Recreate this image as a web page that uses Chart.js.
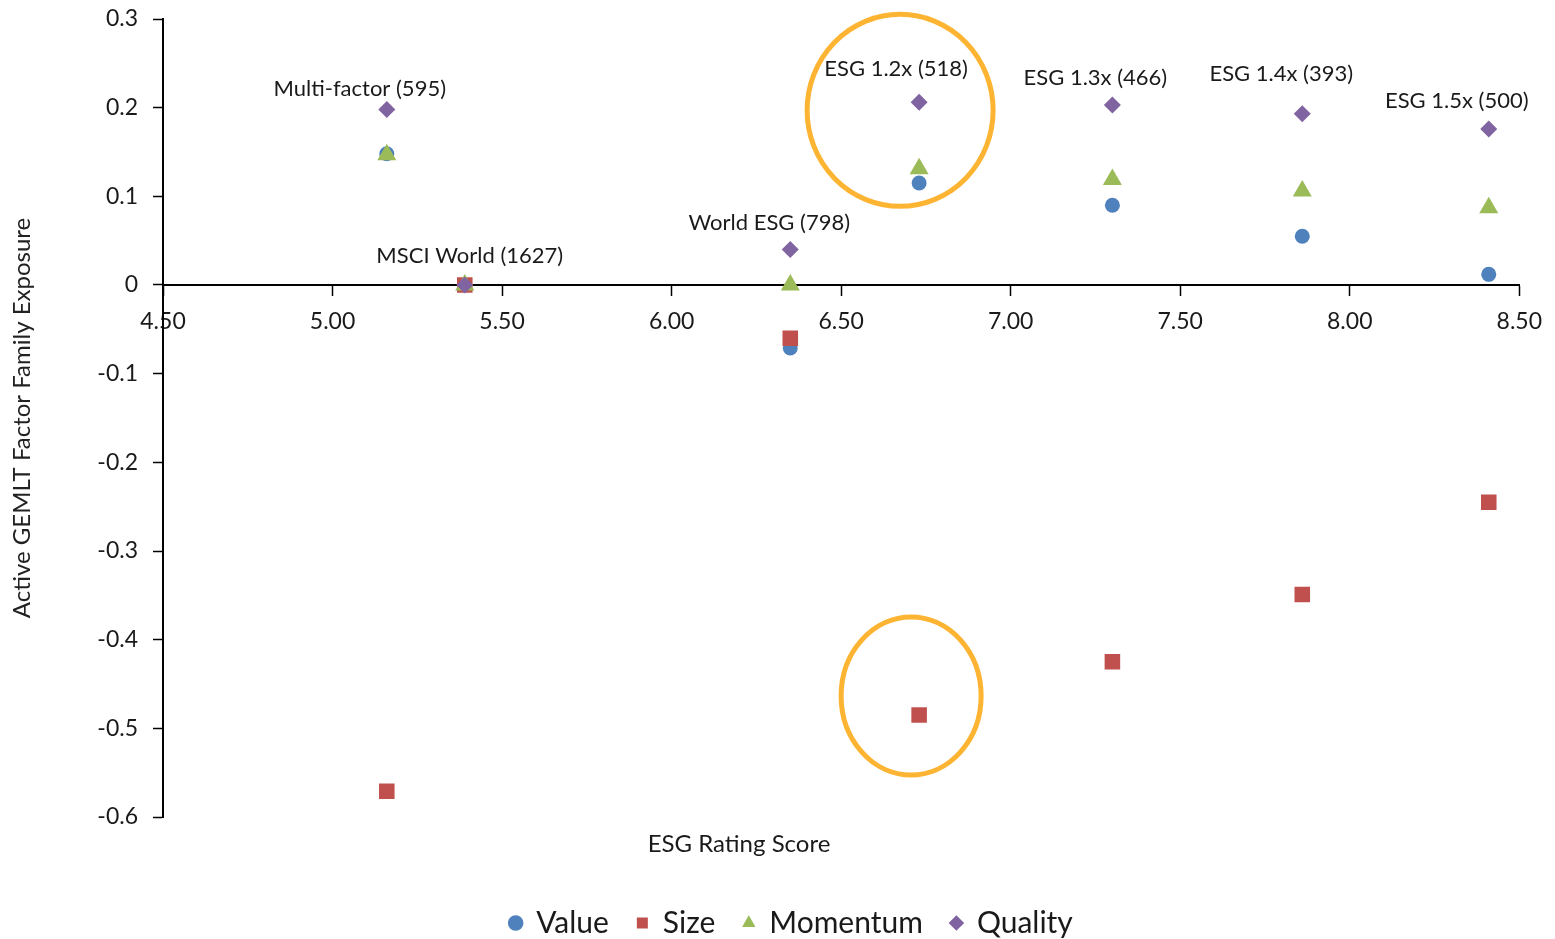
<!DOCTYPE html>
<html>
<head>
<meta charset="utf-8">
<title>Active factor exposure vs ESG rating</title>
<script src="https://cdn.jsdelivr.net/npm/chart.js@4.4.1/dist/chart.umd.min.js"></script>
<style>
  html, body { margin: 0; padding: 0; background: #ffffff; }
  canvas { display: block; }
</style>
</head>
<body>
<canvas id="chart" width="1555" height="939"></canvas>
<script>
// Portfolios (with constituent counts) and their ESG rating scores
const portfolios = ['Multi-factor (595)', 'MSCI World (1627)', 'World ESG (798)', 'ESG 1.2x (518)', 'ESG 1.3x (466)', 'ESG 1.4x (393)', 'ESG 1.5x (500)'];
const esgScores = [5.16, 5.39, 6.35, 6.73, 7.30, 7.86, 8.41];

// Active GEMLT factor family exposures per portfolio
const valueExposure    = [0.148, 0.000, -0.071, 0.115, 0.090, 0.055, 0.012];
const sizeExposure     = [-0.571, 0.000, -0.060, -0.485, -0.425, -0.349, -0.245];
const momentumExposure = [0.147, 0.000, 0.000, 0.131, 0.119, 0.106, 0.087];
const qualityExposure  = [0.198, 0.000, 0.040, 0.206, 0.203, 0.193, 0.176];

// Axis tick labels
const xTickLabels = ['4.50', '5.00', '5.50', '6.00', '6.50', '7.00', '7.50', '8.00', '8.50'];
const yTickLabels = ['-0.6', '-0.5', '-0.4', '-0.3', '-0.2', '-0.1', '0', '0.1', '0.2', '0.3'];

// Portfolio singled out with rings
const highlightIndex = 3;

// Label placement: pixel offsets from each portfolio's Quality marker
const labelOffsets = [[-27, -21], [5, -29], [-21, -27], [-23, -33], [-17, -27], [-21, -40], [-32, -28]];

// Rings around the highlighted portfolio: anchor series, offset and radii in pixels
const rings = [
  { values: qualityExposure, dx: -19, dy: 8, rx: 93, ry: 96 },
  { values: sizeExposure, dx: -8, dy: -19, rx: 70, ry: 79 }
];

const FONT = 'Lato, "Open Sans", sans-serif';
const TEXT = '#1a1a1a';

Chart.defaults.font.family = FONT;
Chart.defaults.color = TEXT;

const seriesDefs = [
  { label: 'Value',    values: valueExposure,    color: '#4F81BD', style: 'circle',   radius: 7.5, order: 4 },
  { label: 'Size',     values: sizeExposure,     color: '#C0504D', style: 'rect',     radius: 11,  order: 3 },
  { label: 'Momentum', values: momentumExposure, color: '#9BBB59', style: 'triangle', radius: 11,  order: 2 },
  { label: 'Quality',  values: qualityExposure,  color: '#8064A2', style: 'rectRot',  radius: 8.5, order: 1 }
];

const toPoints = ys => esgScores.map((x, i) => ({ x: x, y: ys[i] }));

const notesPlugin = {
  id: 'portfolioNotes',
  afterDatasetsDraw(chart) {
    const { ctx, chartArea } = chart;
    const xs = chart.scales.x;
    const ys = chart.scales.y;
    ctx.save();

    // highlight rings
    ctx.strokeStyle = '#FDB433';
    ctx.lineWidth = 5;
    rings.forEach(r => {
      const cx = xs.getPixelForValue(esgScores[highlightIndex]) + r.dx;
      const cy = ys.getPixelForValue(r.values[highlightIndex]) + r.dy;
      ctx.beginPath();
      ctx.ellipse(cx, cy, r.rx, r.ry, 0, 0, Math.PI * 2);
      ctx.stroke();
    });

    // portfolio labels
    ctx.fillStyle = TEXT;
    ctx.font = '22px ' + FONT;
    ctx.textAlign = 'center';
    ctx.textBaseline = 'middle';
    portfolios.forEach((name, i) => {
      const px = xs.getPixelForValue(esgScores[i]) + labelOffsets[i][0];
      const py = ys.getPixelForValue(qualityExposure[i]) + labelOffsets[i][1];
      ctx.fillText(name, px, py);
    });

    // x-axis title
    ctx.font = '24px ' + FONT;
    ctx.fillText('ESG Rating Score', chartArea.left + 576, chartArea.bottom + 27);
    ctx.restore();
  }
};

new Chart(document.getElementById('chart'), {
  type: 'scatter',
  data: {
    datasets: seriesDefs.map(s => ({
      label: s.label,
      data: toPoints(s.values),
      pointStyle: s.style,
      pointRadius: s.radius,
      pointHoverRadius: s.radius,
      backgroundColor: s.color,
      borderColor: s.color,
      borderWidth: 0,
      order: s.order
    }))
  },
  options: {
    responsive: false,
    animation: false,
    devicePixelRatio: 1,
    layout: { padding: { left: 58, right: 30, top: 19, bottom: -9 } },
    plugins: {
      legend: {
        position: 'bottom',
        labels: {
          usePointStyle: true,
          boxWidth: 11,
          boxHeight: 11,
          padding: 28,
          color: TEXT,
          font: { size: 30 },
          sort: (a, b) => a.datasetIndex - b.datasetIndex
        }
      },
      tooltip: { enabled: false }
    },
    scales: {
      x: {
        type: 'linear',
        position: { y: 0 },
        min: 4.5,
        max: 8.5,
        ticks: {
          stepSize: 0.5,
          padding: 13,
          color: TEXT,
          font: { size: 23 },
          maxRotation: 0,
          autoSkip: false,
          callback: (v, i) => xTickLabels[i]
        },
        grid: { drawOnChartArea: false, drawTicks: true, tickLength: 10, tickColor: '#000', tickWidth: 1.5 },
        border: { color: '#000', width: 2 }
      },
      xTitleSpace: {
        axis: 'x',
        type: 'linear',
        position: 'bottom',
        display: true,
        ticks: { display: false },
        grid: { display: false },
        border: { display: false },
        afterFit: s => { s.height = 63; }
      },
      y: {
        type: 'linear',
        position: 'left',
        min: -0.6,
        max: 0.3,
        ticks: {
          stepSize: 0.1,
          padding: 15,
          color: TEXT,
          font: { size: 23 },
          autoSkip: false,
          callback: (v, i) => yTickLabels[i]
        },
        grid: { drawOnChartArea: false, drawTicks: true, tickLength: 10, tickColor: '#000', tickWidth: 1.5 },
        border: { color: '#000', width: 2 },
        title: {
          display: true,
          text: 'Active GEMLT Factor Family Exposure',
          color: '#222',
          font: { size: 24 },
          padding: { top: -50, bottom: 0 }
        },
        afterFit: s => {
          s.width = 105;
          s.paddingTop = 12;
          s.paddingBottom = 12;
        }
      }
    }
  },
  plugins: [notesPlugin]
});
</script>
</body>
</html>
